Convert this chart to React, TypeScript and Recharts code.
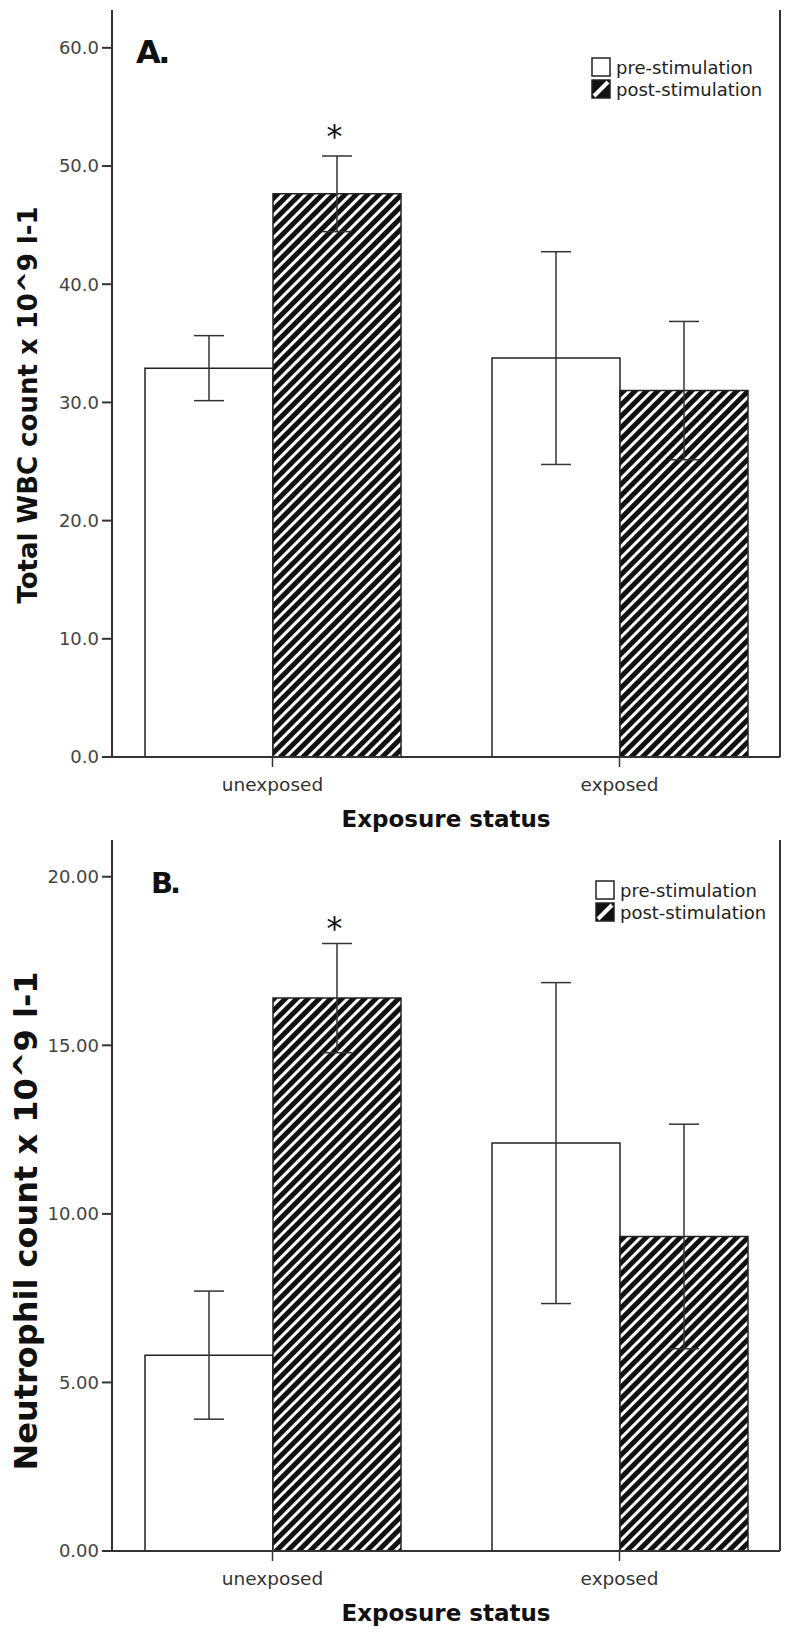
import React from "react";
import { BarChart, Bar, XAxis, YAxis, ErrorBar, ReferenceDot, Legend } from "recharts";

const FONT = "'DejaVu Sans', Verdana, sans-serif";
const FRAME = "#333";

const categories = ["unexposed", "exposed"];
const seriesOrder = ["pre", "post"];

// A. total WBC count (x 10^9 / l), mean and error half-width
const wbcPre = [32.9, 33.75];
const wbcPreErr = [2.75, 9.0];
const wbcPost = [47.65, 31.0];
const wbcPostErr = [3.2, 5.85];
const wbcTicks = [0, 10, 20, 30, 40, 50, 60];
const wbcStar = 53.1;

// B. neutrophil count (x 10^9 / l)
const neuPre = [5.81, 12.1];
const neuPreErr = [1.9, 4.76];
const neuPost = [16.4, 9.33];
const neuPostErr = [1.62, 3.33];
const neuTicks = [0, 5, 10, 15, 20];
const neuStar = 18.7;

const toRows = (pre: number[], preErr: number[], post: number[], postErr: number[]) =>
  categories.map((status, i) => ({
    status,
    pre: pre[i],
    preErr: preErr[i],
    post: post[i],
    postErr: postErr[i],
  }));

const wbcData = toRows(wbcPre, wbcPreErr, wbcPost, wbcPostErr);
const neuData = toRows(neuPre, neuPreErr, neuPost, neuPostErr);

function LegendBox({ payload }: any) {
  const items = [...(payload || [])].sort(
    (a: any, b: any) => seriesOrder.indexOf(a.dataKey) - seriesOrder.indexOf(b.dataKey)
  );
  return (
    <div style={{ fontFamily: FONT, fontSize: 18, color: "#222" }}>
      {items.map((entry: any, i: number) => (
        <div key={i} style={{ display: "flex", alignItems: "center", height: 22 }}>
          <svg width={20} height={20} style={{ marginRight: 5 }}>
            {entry.dataKey === "pre" ? (
              <rect x={1} y={1} width={18} height={18} fill="#fff" stroke="#222" strokeWidth={1.5} />
            ) : (
              <g>
                <rect x={1} y={1} width={18} height={18} fill="#111" stroke="#222" strokeWidth={1.5} />
                <path d="M3 17 L17 3" stroke="#fff" strokeWidth={4} />
              </g>
            )}
          </svg>
          <span>{entry.value}</span>
        </div>
      ))}
    </div>
  );
}

function Panel({
  top,
  height,
  marginTop,
  xAxisHeight,
  data,
  ticks,
  yMax,
  digits,
  yLabel,
  yLabelSize,
  yLabelX,
  yLabelY,
  letter,
  letterX,
  letterY,
  letterSize,
  legendTop,
  legendLeft,
  star,
  id,
}: any) {
  return (
    <div style={{ position: "absolute", left: 0, top, width: 790, height }}>
      <BarChart
        width={790}
        height={height}
        data={data}
        margin={{ top: marginTop, right: 0, bottom: 0, left: 0 }}
        barGap={0}
        barSize={128}
      >
        <defs>
          <pattern id={id} width={8} height={8} patternUnits="userSpaceOnUse" patternTransform="rotate(45)">
            <rect width={8} height={8} fill="#111" />
            <rect width={3} height={8} fill="#fff" />
          </pattern>
        </defs>
        <XAxis
          dataKey="status"
          height={xAxisHeight}
          padding={{ left: -13, right: -13 }}
          tickSize={10}
          tickMargin={11}
          axisLine={{ stroke: FRAME, strokeWidth: 2 }}
          tickLine={{ stroke: FRAME, strokeWidth: 1.5 }}
          tick={{ fontSize: 18.5, fill: "#333", fontFamily: FONT }}
          label={(p: any) => (
            <text
              x={p.viewBox.x + p.viewBox.width / 2}
              y={p.viewBox.y + 70}
              textAnchor="middle"
              fontFamily={FONT}
              fontWeight="bold"
              fontSize={23}
              fill="#111"
            >
              Exposure status
            </text>
          )}
        />
        <XAxis
          xAxisId="top"
          orientation="top"
          height={0}
          tick={false}
          tickLine={false}
          axisLine={{ stroke: FRAME, strokeWidth: 2 }}
        />
        <YAxis
          width={112}
          domain={[0, yMax]}
          ticks={ticks}
          interval={0}
          tickSize={10}
          tickMargin={3}
          tickFormatter={(v: number) => v.toFixed(digits)}
          axisLine={{ stroke: FRAME, strokeWidth: 2 }}
          tickLine={{ stroke: FRAME, strokeWidth: 2 }}
          tick={{ fontSize: 18, fill: "#444", fontFamily: FONT }}
          label={() => (
            <text
              x={yLabelX}
              y={yLabelY}
              transform={`rotate(-90 ${yLabelX} ${yLabelY})`}
              textAnchor="middle"
              dominantBaseline="central"
              fontFamily={FONT}
              fontWeight="bold"
              fontSize={yLabelSize}
              fill="#111"
            >
              {yLabel}
            </text>
          )}
        />
        <YAxis
          yAxisId="r"
          orientation="right"
          width={10}
          type="number"
          domain={[0, 1]}
          tick={false}
          tickLine={false}
          axisLine={{ stroke: FRAME, strokeWidth: 2 }}
        />
        <Legend
          layout="vertical"
          align="center"
          verticalAlign="middle"
          wrapperStyle={{ left: legendLeft, top: legendTop, width: 190, height: 50 }}
          content={<LegendBox />}
        />
        <Bar
          dataKey="pre"
          name="pre-stimulation"
          fill="#fff"
          stroke="#222"
          strokeWidth={1.5}
          isAnimationActive={false}
        >
          <ErrorBar dataKey="preErr" width={15} stroke="#333" strokeWidth={1.5} isAnimationActive={false} />
        </Bar>
        <Bar
          dataKey="post"
          name="post-stimulation"
          fill={`url(#${id})`}
          stroke="#222"
          strokeWidth={1.5}
          isAnimationActive={false}
        >
          <ErrorBar dataKey="postErr" width={15} stroke="#333" strokeWidth={1.5} isAnimationActive={false} />
        </Bar>
        <ReferenceDot
          x="unexposed"
          y={star}
          r={0}
          shape={(p: any) => (
            <text x={p.cx + 62} y={p.cy + 18} textAnchor="middle" fontFamily={FONT} fontSize={32} fill="#111">
              *
            </text>
          )}
        />
        <text x={letterX} y={letterY} fontFamily={FONT} fontWeight="bold" fontSize={letterSize} letterSpacing={-3} fill="#111">
          {letter}
        </text>
      </BarChart>
    </div>
  );
}

export default function App() {
  return (
    <div style={{ position: "absolute", left: 0, top: 0, width: 790, height: 1635, background: "#fff" }}>
      <Panel
        top={0}
        height={835}
        marginTop={10}
        xAxisHeight={78}
        data={wbcData}
        ticks={wbcTicks}
        yMax={63.2}
        digits={1}
        yLabel="Total WBC count x 10^9 l-1"
        yLabelSize={26}
        yLabelX={28}
        yLabelY={405}
        letter="A."
        letterX={136}
        letterY={63}
        letterSize={32}
        legendTop={56}
        legendLeft={591}
        star={wbcStar}
        id="hatchA"
      />
      <Panel
        top={835}
        height={800}
        marginTop={5}
        xAxisHeight={84}
        data={neuData}
        ticks={neuTicks}
        yMax={21.09}
        digits={2}
        yLabel="Neutrophil count x 10^9 l-1"
        yLabelSize={32}
        yLabelX={26}
        yLabelY={386}
        letter="B."
        letterX={151}
        letterY={58}
        letterSize={29}
        legendTop={44}
        legendLeft={595}
        star={neuStar}
        id="hatchB"
      />
    </div>
  );
}
